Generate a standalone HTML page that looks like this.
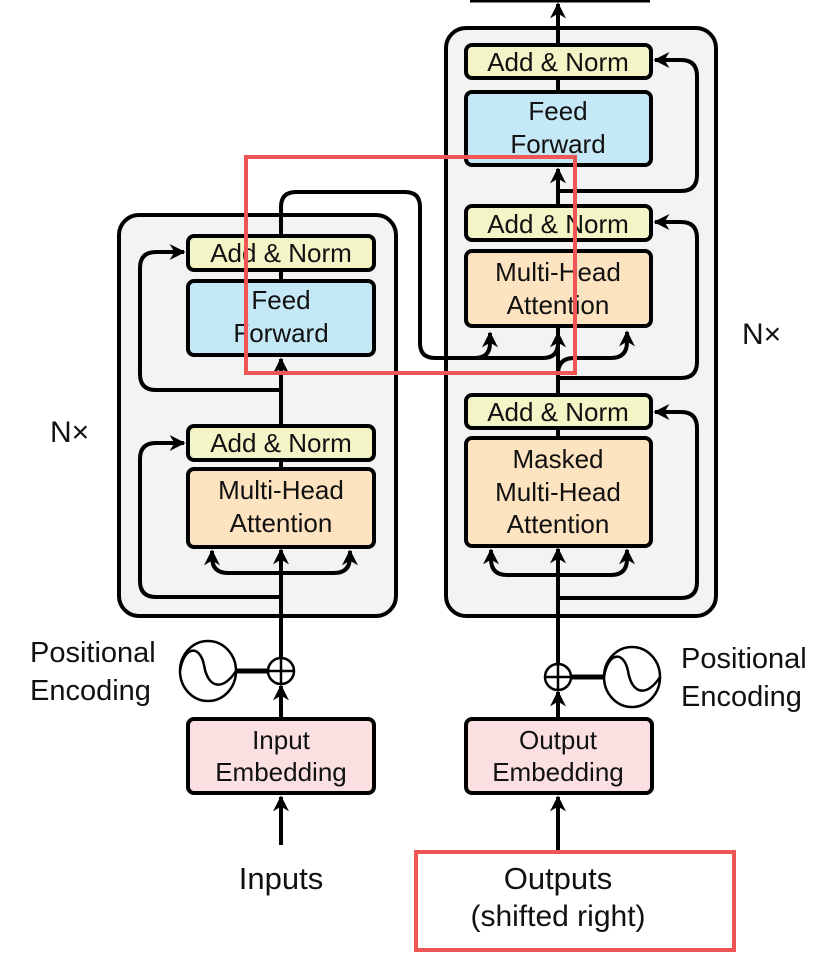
<!DOCTYPE html>
<html><head><meta charset="utf-8"><style>
html,body{margin:0;padding:0;background:#fff;}
svg{display:block;}
text{font-family:"Liberation Sans",sans-serif;fill:#111;}
</style></head><body>
<svg width="836" height="968" viewBox="0 0 836 968" xmlns="http://www.w3.org/2000/svg">
<defs>
<marker id="ah" viewBox="0 0 10 10" refX="9" refY="5" markerWidth="4" markerHeight="4" orient="auto-start-reverse" markerUnits="strokeWidth">
<path d="M0,0 L10,5 L0,10 L3,5 z" fill="#000"/>
</marker>
</defs>
<line x1="470" y1="1" x2="650" y2="1" stroke="#000" stroke-width="3"/>
<rect x="119" y="215" width="277" height="401" rx="20" fill="#f3f3f3" stroke="#000" stroke-width="4"/>
<rect x="446" y="28" width="270" height="588" rx="20" fill="#f3f3f3" stroke="#000" stroke-width="4"/>

<g fill="none" stroke="#000" stroke-width="4">
<line x1="281" y1="845" x2="281" y2="797" marker-end="url(#ah)"/>
<line x1="281" y1="718" x2="281" y2="686" marker-end="url(#ah)"/>
<line x1="281" y1="658" x2="281" y2="550" marker-end="url(#ah)"/>
<line x1="281" y1="547" x2="281" y2="460"/>
<line x1="281" y1="425" x2="281" y2="359" marker-end="url(#ah)"/>
<line x1="281" y1="280" x2="281" y2="270"/>
<path d="M281,235 L281,207 Q281,192 296,192 L405,192 Q420,192 420,207 L420,343 Q420,358 435,358 L475,358 Q490,358 490,343 L490,333" marker-end="url(#ah)"/>
<path d="M475,358 L543,358 Q558,358 558,343 L558,333" marker-end="url(#ah)"/>
<path d="M281,573 L228,573 Q212,573 212,557 L212,551" marker-end="url(#ah)"/>
<path d="M281,573 L334,573 Q350,573 350,557 L350,551" marker-end="url(#ah)"/>
<path d="M281,597 L156,597 Q140,597 140,581 L140,459 Q140,443 156,443 L184,443" marker-end="url(#ah)"/>
<path d="M281,390 L156,390 Q140,390 140,374 L140,268 Q140,252 156,252 L184,252" marker-end="url(#ah)"/>

<line x1="558" y1="850" x2="558" y2="797" marker-end="url(#ah)"/>
<line x1="558" y1="718" x2="558" y2="692" marker-end="url(#ah)"/>
<line x1="558" y1="664" x2="558" y2="549" marker-end="url(#ah)"/>
<line x1="558" y1="438" x2="558" y2="428"/>
<line x1="558" y1="395" x2="558" y2="251"/>
<line x1="558" y1="205" x2="558" y2="169" marker-end="url(#ah)"/>
<line x1="558" y1="92" x2="558" y2="78"/>
<line x1="558" y1="45" x2="558" y2="4" marker-end="url(#ah)"/>
<path d="M558,575 L507,575 Q491,575 491,559 L491,550" marker-end="url(#ah)"/>
<path d="M558,575 L611,575 Q627,575 627,559 L627,550" marker-end="url(#ah)"/>
<path d="M558,378 L558,374 Q558,358 574,358 L611,358 Q627,358 627,342 L627,332" marker-end="url(#ah)"/>
<path d="M558,598 L681,598 Q697,598 697,582 L697,428 Q697,412 681,412 L655,412" marker-end="url(#ah)"/>
<path d="M558,378 L681,378 Q697,378 697,362 L697,238 Q697,222 681,222 L655,222" marker-end="url(#ah)"/>
<path d="M558,191 L681,191 Q697,191 697,175 L697,76 Q697,60 681,60 L655,60" marker-end="url(#ah)"/>
<line x1="237" y1="671" x2="268" y2="671" stroke-width="5"/>
<line x1="571" y1="677" x2="603" y2="677" stroke-width="5"/>
</g>

<g stroke="#000" stroke-width="4">
<rect x="188" y="236" width="186" height="34" rx="6" fill="#f3f5c6"/>
<rect x="188" y="281" width="186" height="74" rx="6" fill="#c5e8f6"/>
<rect x="188" y="426" width="186" height="34" rx="6" fill="#f3f5c6"/>
<rect x="188" y="469" width="186" height="78" rx="6" fill="#fde3bf"/>
<rect x="188" y="719" width="186" height="74" rx="6" fill="#fbe0e1"/>
<rect x="466" y="45" width="185" height="33" rx="6" fill="#f3f5c6"/>
<rect x="466" y="92" width="185" height="73" rx="6" fill="#c5e8f6"/>
<rect x="466" y="206" width="185" height="34" rx="6" fill="#f3f5c6"/>
<rect x="466" y="251" width="185" height="75" rx="6" fill="#fde3bf"/>
<rect x="466" y="395" width="185" height="33" rx="6" fill="#f3f5c6"/>
<rect x="466" y="438" width="185" height="108" rx="6" fill="#fde3bf"/>
<rect x="466" y="719" width="186" height="74" rx="6" fill="#fbe0e1"/>
</g>

<g fill="#fff" stroke="#000" stroke-width="2.5">
<circle cx="281" cy="671" r="13"/>
<circle cx="558" cy="677" r="13"/>
<ellipse cx="208" cy="671" rx="28" ry="30"/>
<ellipse cx="632" cy="677" rx="28" ry="30"/>
</g>
<g fill="none" stroke="#000" stroke-width="2.5">
<path d="M268,671 H294 M281,658 V684"/>
<path d="M545,677 H571 M558,664 V690"/>
<path d="M180,671 C184,645 200,645 204,665 C208,690 224,690 236,671"/>
<path d="M604,677 C608,651 624,651 628,671 C632,696 648,696 660,677"/>
</g>

<g font-size="26" text-anchor="middle">
<text x="281" y="262">Add &amp; Norm</text>
<text x="281" y="309">Feed</text>
<text x="281" y="342">Forward</text>
<text x="281" y="452">Add &amp; Norm</text>
<text x="281" y="499">Multi-Head</text>
<text x="281" y="532">Attention</text>
<text x="281" y="749">Input</text>
<text x="281" y="781">Embedding</text>
<text x="558" y="71">Add &amp; Norm</text>
<text x="558" y="120">Feed</text>
<text x="558" y="153">Forward</text>
<text x="558" y="233">Add &amp; Norm</text>
<text x="558" y="281">Multi-Head</text>
<text x="558" y="314">Attention</text>
<text x="558" y="421">Add &amp; Norm</text>
<text x="558" y="468">Masked</text>
<text x="558" y="501">Multi-Head</text>
<text x="558" y="533">Attention</text>
<text x="558" y="749">Output</text>
<text x="558" y="781">Embedding</text>
</g>
<g font-size="29">
<text x="30" y="662">Positional</text>
<text x="30" y="700">Encoding</text>
<text x="681" y="668">Positional</text>
<text x="681" y="706">Encoding</text>
<text x="50" y="442" font-size="30">N×</text>
<text x="742" y="344" font-size="30">N×</text>
<text x="281" y="889" text-anchor="middle" font-size="31">Inputs</text>
<text x="558" y="889" text-anchor="middle" font-size="31">Outputs</text>
<text x="558" y="926" text-anchor="middle" font-size="30">(shifted right)</text>
</g>

<rect x="246" y="157" width="329" height="216" fill="none" stroke="#f05555" stroke-width="4"/>
<rect x="416" y="852" width="318" height="98" fill="none" stroke="#f05555" stroke-width="4"/>
</svg>
</body></html>
